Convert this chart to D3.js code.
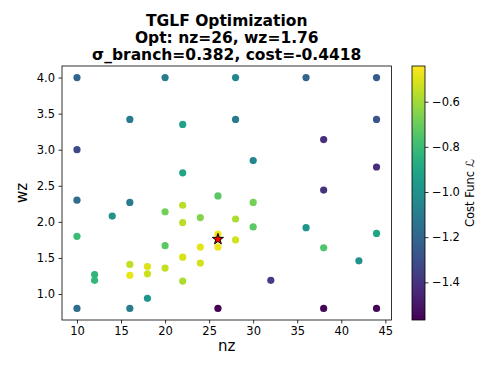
<!DOCTYPE html>
<html>
<head>
<meta charset="utf-8">
<script src="https://cdn.jsdelivr.net/npm/d3@7"></script>
<style>
  body { margin: 0; background: #fff; }
  text { font-family: "DejaVu Sans", sans-serif; fill: #000; }
</style>
</head>
<body>
<svg id="chart"></svg>
<script>
// sampled points (nz, wz) and their cost
const nzVals = [10, 20, 28, 36, 44, 16, 22, 28, 44, 38, 10, 30, 44, 22, 38, 26, 10, 16, 30, 22,
  20, 14, 24, 28, 22, 30, 36, 44, 26, 10, 28, 20, 24, 26, 38, 22, 42, 24, 16, 18,
  20, 18, 12, 16, 12, 22, 32, 18, 10, 16, 26, 38, 44, 26];
const wzVals = [4.0, 4.0, 4.0, 4.0, 4.0, 3.42, 3.35, 3.42, 3.42, 3.14, 3.0, 2.85, 2.76, 2.68, 2.44, 2.36, 2.30, 2.27, 2.27, 2.23,
  2.14, 2.08, 2.06, 2.04, 1.99, 1.93, 1.92, 1.84, 1.83, 1.80, 1.75, 1.67, 1.65, 1.65, 1.64, 1.51, 1.46, 1.43, 1.41, 1.38,
  1.36, 1.28, 1.27, 1.26, 1.19, 1.18, 1.19, 0.94, 0.8, 0.8, 0.8, 0.8, 0.8, 1.76];
const costVals = [-1.2, -1.1, -1.05, -1.2, -1.25, -1.1, -0.92, -1.1, -1.27, -1.42, -1.32, -1.05, -1.42, -0.9, -1.4, -0.73, -1.17, -1.1, -0.68, -0.56,
  -0.68, -1.0, -0.65, -0.58, -0.56, -0.73, -0.98, -0.9, -0.47, -0.8, -0.52, -0.73, -0.49, -0.47, -0.75, -0.51, -1.0, -0.52, -0.55, -0.5,
  -0.54, -0.53, -0.83, -0.48, -0.82, -0.58, -1.37, -0.98, -1.17, -1.1, -1.567, -1.55, -1.55, -0.4418];
const xTicks = [10, 15, 20, 25, 30, 35, 40, 45];
const yTicks = [1.0, 1.5, 2.0, 2.5, 3.0, 3.5, 4.0];
const cbTicks = [-0.6, -0.8, -1.0, -1.2, -1.4];
const best = { nz: 26, wz: 1.76 };
const titleLines = ["TGLF Optimization", "Opt: nz=26, wz=1.76", "σ_branch=0.382, cost=-0.4418"];

const WIDTH = 498, HEIGHT = 374;
const PLOT = { LEFT: 62, RIGHT: 391.5, TOP: 66, BOTTOM: 320 };
const CBAR = { LEFT: 412, RIGHT: 425 };

const svg = d3.select("#chart").attr("width", WIDTH).attr("height", HEIGHT);

const points = nzVals.map((d, i) => ({ nz: d, wz: wzVals[i], cost: costVals[i] }));

const xScale = d3.scaleLinear().domain([8.3, 45.7]).range([PLOT.LEFT, PLOT.RIGHT]);
const yScale = d3.scaleLinear().domain([0.64, 4.16]).range([PLOT.BOTTOM, PLOT.TOP]);
const cExtent = d3.extent(costVals);
const color = d3.scaleSequential(d3.interpolateViridis).domain(cExtent);

// points
svg.append("g").selectAll("circle")
  .data(points)
  .enter()
  .append("circle")
    .attr("cx", d => xScale(d.nz))
    .attr("cy", d => yScale(d.wz))
    .attr("r", 3.6)
    .attr("fill", d => color(d.cost));

// optimum star
svg.append("path")
  .attr("d", d3.symbol().type(d3.symbolStar).size(38)())
  .attr("transform", `translate(${xScale(best.nz)},${yScale(best.wz)})`)
  .attr("fill", "red")
  .attr("stroke", "black")
  .attr("stroke-width", 1);

// axes
const xAxis = svg.append("g")
  .attr("transform", `translate(0,${PLOT.BOTTOM})`)
  .call(d3.axisBottom(xScale).tickValues(xTicks).tickSize(3.5).tickPadding(3.5).tickFormat(d3.format("d")));
const yAxis = svg.append("g")
  .attr("transform", `translate(${PLOT.LEFT},0)`)
  .call(d3.axisLeft(yScale).tickValues(yTicks).tickSize(3.5).tickPadding(3.5).tickFormat(d3.format(".1f")));
[xAxis, yAxis].forEach(ax => {
  ax.select(".domain").remove();
  ax.selectAll("text").style("font-size", "11.5px").style("font-family", "DejaVu Sans");
  ax.selectAll("line").attr("stroke", "#000").attr("stroke-width", 0.8);
});

svg.append("rect")
  .attr("x", PLOT.LEFT).attr("y", PLOT.TOP)
  .attr("width", PLOT.RIGHT - PLOT.LEFT).attr("height", PLOT.BOTTOM - PLOT.TOP)
  .attr("fill", "none").attr("stroke", "#000").attr("stroke-width", 0.8);

svg.append("text")
  .attr("x", (PLOT.LEFT + PLOT.RIGHT) / 2)
  .attr("y", 351)
  .style("text-anchor", "middle")
  .style("font-size", "15px")
  .text("nz");
svg.append("text")
  .attr("transform", `translate(27,${(PLOT.TOP + PLOT.BOTTOM) / 2}) rotate(-90)`)
  .style("text-anchor", "middle")
  .style("font-size", "15px")
  .text("wz");

// title
svg.append("g").selectAll("text")
  .data(titleLines)
  .enter()
  .append("text")
    .attr("x", (PLOT.LEFT + PLOT.RIGHT) / 2)
    .attr("y", (d, i) => 26 + i * 17)
    .style("text-anchor", "middle")
    .style("font-size", "15.5px")
    .style("font-weight", "bold")
    .text(d => d);

// colorbar
const cbScale = d3.scaleLinear().domain(cExtent).range([PLOT.BOTTOM, PLOT.TOP]);
const grad = svg.append("defs").append("linearGradient")
  .attr("id", "cbgrad").attr("x1", 0).attr("y1", 1).attr("x2", 0).attr("y2", 0);
d3.range(0, 1.0001, 0.05).forEach(t => {
  grad.append("stop").attr("offset", t).attr("stop-color", d3.interpolateViridis(t));
});
svg.append("rect")
  .attr("x", CBAR.LEFT).attr("y", PLOT.TOP)
  .attr("width", CBAR.RIGHT - CBAR.LEFT).attr("height", PLOT.BOTTOM - PLOT.TOP)
  .attr("fill", "url(#cbgrad)")
  .attr("stroke", "#000").attr("stroke-width", 0.8);
const cbAxis = svg.append("g")
  .attr("transform", `translate(${CBAR.RIGHT},0)`)
  .call(d3.axisRight(cbScale).tickValues(cbTicks).tickSize(3.5).tickPadding(3.5)
    .tickFormat(d => d3.format(".1f")(d).replace("-", "\u2212")));
cbAxis.select(".domain").remove();
cbAxis.selectAll("text").style("font-size", "11.5px").style("font-family", "DejaVu Sans");
cbAxis.selectAll("line").attr("stroke", "#000").attr("stroke-width", 0.8);

svg.append("text")
  .attr("transform", `translate(474,${(PLOT.TOP + PLOT.BOTTOM) / 2}) rotate(-90)`)
  .style("text-anchor", "middle")
  .style("font-size", "11.5px")
  .html('Cost Func <tspan font-style="italic">ℒ</tspan>');
</script>
</body>
</html>
